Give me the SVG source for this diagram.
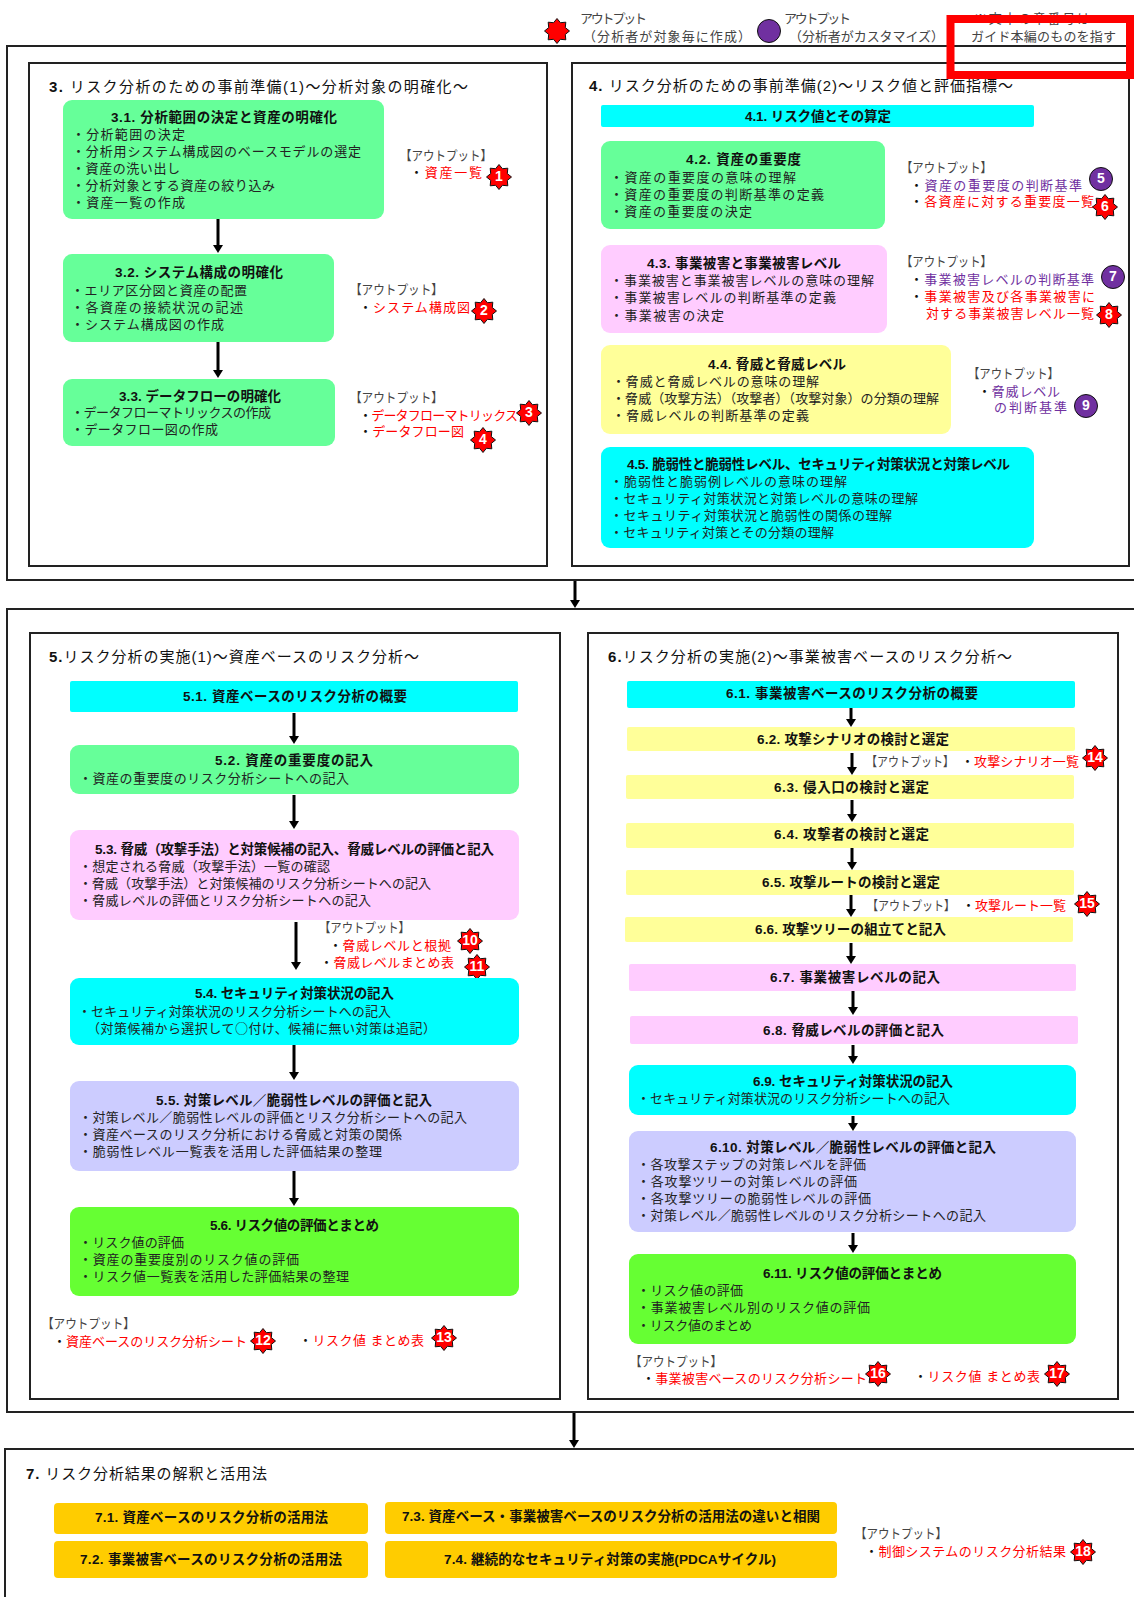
<svg xmlns="http://www.w3.org/2000/svg" xmlns:xlink="http://www.w3.org/1999/xlink" width="1134" height="1597" viewBox="0 0 1134 1597">
<style>
text{font-family:"Liberation Sans","Noto Sans CJK JP",sans-serif;font-size:13px;fill:#222;transform:translateY(-1px)}
.t{font-weight:bold;fill:#111;font-size:13.5px}
.h{font-size:15px;fill:#111}
.h tspan{font-weight:bold}
.o{fill:#444}
.r{fill:#f00}
.p{fill:#7030a0}
.d{fill:#111}
.cj{font-family:"Noto Sans CJK JP",sans-serif}
.n{font-weight:bold;font-size:14px;fill:#fff;text-anchor:middle}
.panel{fill:#fff;stroke:#222;stroke-width:2}
.c{fill:#0ff}.g{fill:#6f9}.m{fill:#fcf}.y{fill:#ff9}.l{fill:#ccf}.v{fill:#6f3}.a{fill:#fc0}
.cn line{stroke:#000;stroke-width:3;marker-end:url(#ah)}
</style>
<defs>
<marker id="ah" markerUnits="userSpaceOnUse" markerWidth="8" markerHeight="10" refX="0" refY="5" viewBox="0 0 8 10" orient="auto"><path d="M0 0L8 5L0 10Z" fill="#000"/></marker>
<polygon id="star" points="0,-12.5 3.4,-8.3 8.8,-8.8 8.3,-3.4 12.5,0 8.3,3.4 8.8,8.8 3.4,8.3 0,12.5 -3.4,8.3 -8.8,8.8 -8.3,3.4 -12.5,0 -8.3,-3.4 -8.8,-8.8 -3.4,-8.3" fill="#f00" stroke="#111" stroke-width="1"/>
<circle id="circ" r="11.5" fill="#7030a0" stroke="#111" stroke-width="1"/>
</defs>
<rect width="1134" height="1597" fill="#fff"/>

<g id="panels">
<rect class="panel" x="7" y="46" width="1140" height="534"/>
<rect class="panel" x="29" y="63" width="518" height="503"/>
<rect class="panel" x="572" y="63" width="557" height="503"/>
<rect class="panel" x="7" y="609" width="1140" height="803"/>
<rect class="panel" x="30" y="633" width="530" height="766"/>
<rect class="panel" x="588" y="633" width="530" height="766"/>
<rect class="panel" x="5" y="1449" width="1140" height="160"/>
</g>

<g id="connectors" class="cn">
<line x1="575" y1="581" x2="575" y2="600"/>
<line x1="574" y1="1413" x2="574" y2="1440"/>
<line x1="218" y1="219" x2="218" y2="245"/>
<line x1="218" y1="342" x2="218" y2="370"/>
<line x1="294" y1="713" x2="294" y2="736"/>
<line x1="294" y1="795" x2="294" y2="821"/>
<line x1="296" y1="922" x2="296" y2="962"/>
<line x1="294" y1="1045" x2="294" y2="1072"/>
<line x1="294" y1="1171" x2="294" y2="1198"/>
<line x1="851" y1="705" x2="851" y2="719"/>
<line x1="852" y1="753" x2="852" y2="767"/>
<line x1="852" y1="800" x2="852" y2="814"/>
<line x1="852" y1="848" x2="852" y2="862"/>
<line x1="851" y1="895" x2="851" y2="909"/>
<line x1="851" y1="943" x2="851" y2="956"/>
<line x1="853" y1="991" x2="853" y2="1007"/>
<line x1="853" y1="1045" x2="853" y2="1056"/>
<line x1="853" y1="1116" x2="853" y2="1123"/>
<line x1="853" y1="1233" x2="853" y2="1245"/>
</g>

<g id="legend">
<use xlink:href="#star" href="#star" x="557" y="31"/>
<text class="o" x="580" y="24" textLength="67">アウトプット</text>
<text class="o" x="583" y="42" textLength="168">（分析者が対象毎に作成）</text>
<use xlink:href="#circ" href="#circ" x="769" y="31"/>
<text class="o" x="784" y="24" textLength="67">アウトプット</text>
<text class="o" x="789" y="42" textLength="155">（分析者がカスタマイズ）</text>
<text class="o" x="974" y="24" textLength="116">※文中の章番号は</text>
<text class="o" x="971" y="42" textLength="145">ガイド本編のものを指す</text>
</g>

<g id="section3-title"><text class="h" x="49" y="93" textLength="419"><tspan>3.</tspan> リスク分析のための事前準備(1)～分析対象の明確化～</text></g>
<g id="section4-title"><text class="h" x="589" y="92" textLength="424"><tspan>4.</tspan> リスク分析のための事前準備(2)～リスク値と評価指標～</text></g>
<g id="section5-title"><text class="h" x="49" y="663" textLength="370"><tspan>5.</tspan>リスク分析の実施(1)～資産ベースのリスク分析～</text></g>
<g id="section6-title"><text class="h" x="608" y="663" textLength="404"><tspan>6.</tspan>リスク分析の実施(2)～事業被害ベースのリスク分析～</text></g>
<g id="section7-title"><text class="h" x="26" y="1480" textLength="241"><tspan>7.</tspan> リスク分析結果の解釈と活用法</text></g>

<g id="n3-1"><rect class="g" x="63" y="100" width="321" height="119" rx="9"/>
<text class="t" x="111" y="123" textLength="226">3.1. 分析範囲の決定と資産の明確化</text>
<text x="72" y="140" textLength="113">・分析範囲の決定</text>
<text x="72" y="157" textLength="289">・分析用システム構成図のベースモデルの選定</text>
<text x="72" y="174" textLength="108">・資産の洗い出し</text>
<text x="72" y="191" textLength="203">・分析対象とする資産の絞り込み</text>
<text x="72" y="208" textLength="113">・資産一覧の作成</text></g>

<g id="n3-2"><rect class="g" x="63" y="254" width="271" height="88" rx="9"/>
<text class="t" x="115" y="278" textLength="168">3.2. システム構成の明確化</text>
<text x="71" y="296" textLength="176">・エリア区分図と資産の配置</text>
<text x="71" y="313" textLength="172">・各資産の接続状況の記述</text>
<text x="71" y="330" textLength="153">・システム構成図の作成</text></g>

<g id="n3-3"><rect class="g" x="63" y="379" width="272" height="67" rx="9"/>
<text class="t" x="119" y="402" textLength="162">3.3. データフローの明確化</text>
<text x="71" y="418" textLength="200">・データフローマトリックスの作成</text>
<text x="71" y="435" textLength="147">・データフロー図の作成</text></g>

<g id="out3-1"><text class="o" x="400" y="161" textLength="92" lengthAdjust="spacingAndGlyphs">【アウトプット】</text>
<text class="r" x="410" y="178" textLength="72"><tspan class="d">・</tspan>資産一覧</text>
<use xlink:href="#star" href="#star" x="499" y="177"/><text class="n" x="499" y="182">1</text></g>

<g id="out3-2"><text class="o" x="350" y="295" textLength="93" lengthAdjust="spacingAndGlyphs">【アウトプット】</text>
<text class="r" x="359" y="313" textLength="111"><tspan class="d">・</tspan>システム構成図</text>
<use xlink:href="#star" href="#star" x="484" y="311"/><text class="n" x="484" y="316">2</text></g>

<g id="out3-3"><text class="o" x="350" y="403" textLength="93" lengthAdjust="spacingAndGlyphs">【アウトプット】</text>
<text class="r" x="359" y="421" textLength="159"><tspan class="d">・</tspan>データフローマトリックス</text>
<use xlink:href="#star" href="#star" x="529" y="413"/><text class="n" x="529" y="418">3</text>
<text class="r" x="359" y="437" textLength="105"><tspan class="d">・</tspan>データフロー図</text>
<use xlink:href="#star" href="#star" x="483" y="440"/><text class="n" x="483" y="445">4</text></g>

<g id="n4-1"><rect class="c" x="601" y="105" width="433" height="22" rx="2"/>
<text class="t" x="745" y="122" textLength="146">4.1. リスク値とその算定</text></g>

<g id="n4-2"><rect class="g" x="601" y="141" width="284" height="88" rx="9"/>
<text class="t" x="686" y="165" textLength="115">4.2. 資産の重要度</text>
<text x="610" y="183" textLength="186">・資産の重要度の意味の理解</text>
<text x="610" y="200" textLength="214">・資産の重要度の判断基準の定義</text>
<text x="610" y="217" textLength="142">・資産の重要度の決定</text></g>

<g id="out4-2"><text class="o" x="901" y="173" textLength="91" lengthAdjust="spacingAndGlyphs">【アウトプット】</text>
<text class="p" x="910" y="191" textLength="172"><tspan class="d">・</tspan>資産の重要度の判断基準</text>
<use xlink:href="#circ" href="#circ" x="1101" y="179"/><text class="n" x="1101" y="184">5</text>
<text class="r" x="910" y="207" textLength="184"><tspan class="d">・</tspan>各資産に対する重要度一覧</text>
<use xlink:href="#star" href="#star" x="1105" y="207"/><text class="n" x="1105" y="212">6</text></g>

<g id="n4-3"><rect class="m" x="601" y="245" width="286" height="88" rx="9"/>
<text class="t" x="647" y="269" textLength="194">4.3. 事業被害と事業被害レベル</text>
<text x="610" y="286" textLength="264">・事業被害と事業被害レベルの意味の理解</text>
<text x="610" y="303" textLength="226">・事業被害レベルの判断基準の定義</text>
<text x="610" y="321" textLength="114">・事業被害の決定</text></g>

<g id="out4-3"><text class="o" x="901" y="267" textLength="91" lengthAdjust="spacingAndGlyphs">【アウトプット】</text>
<text class="p" x="910" y="285" textLength="184"><tspan class="d">・</tspan>事業被害レベルの判断基準</text>
<use xlink:href="#circ" href="#circ" x="1113" y="277"/><text class="n" x="1113" y="282">7</text>
<text class="r" x="910" y="302" textLength="185"><tspan class="d">・</tspan>事業被害及び各事業被害に</text>
<text class="r" x="926" y="319" textLength="168">対する事業被害レベル一覧</text>
<use xlink:href="#star" href="#star" x="1109" y="315"/><text class="n" x="1109" y="320">8</text></g>

<g id="n4-4"><rect class="y" x="601" y="345" width="350" height="89" rx="9"/>
<text class="t" x="708" y="370" textLength="138">4.4. 脅威と脅威レベル</text>
<text x="612" y="387" textLength="207">・脅威と脅威レベルの意味の理解</text>
<text x="612" y="404" textLength="327">・脅威（攻撃方法）（攻撃者）（攻撃対象）の分類の理解</text>
<text x="612" y="421" textLength="197">・脅威レベルの判断基準の定義</text></g>

<g id="out4-4"><text class="o" x="968" y="379" textLength="91" lengthAdjust="spacingAndGlyphs">【アウトプット】</text>
<text class="p" x="978" y="397" textLength="82"><tspan class="d">・</tspan>脅威レベル</text>
<text class="p" x="994" y="413" textLength="73">の判断基準</text>
<use xlink:href="#circ" href="#circ" x="1086" y="406"/><text class="n" x="1086" y="411">9</text></g>

<g id="n4-5"><rect class="c" x="601" y="447" width="433" height="101" rx="9"/>
<text class="t" x="627" y="470" textLength="383">4.5. 脆弱性と脆弱性レベル、セキュリティ対策状況と対策レベル</text>
<text x="610" y="487" textLength="237">・脆弱性と脆弱例レベルの意味の理解</text>
<text x="610" y="504" textLength="308">・セキュリティ対策状況と対策レベルの意味の理解</text>
<text x="610" y="521" textLength="282">・セキュリティ対策状況と脆弱性の関係の理解</text>
<text x="610" y="538" textLength="224">・セキュリティ対策とその分類の理解</text></g>

<g id="n5-1"><rect class="c" x="70" y="681" width="448" height="31" rx="2"/>
<text class="t" x="183" y="702" textLength="224">5.1. 資産ベースのリスク分析の概要</text></g>

<g id="n5-2"><rect class="g" x="70" y="745" width="449" height="49" rx="9"/>
<text class="t" x="215" y="766" textLength="158">5.2. 資産の重要度の記入</text>
<text x="79" y="784" textLength="270">・資産の重要度のリスク分析シートへの記入</text></g>

<g id="n5-3"><rect class="m" x="70" y="830" width="449" height="90" rx="9"/>
<text class="t" x="95" y="855" textLength="399">5.3. 脅威（攻撃手法）と対策候補の記入、脅威レベルの評価と記入</text>
<text x="79" y="872" textLength="251">・想定される脅威（攻撃手法）一覧の確認</text>
<text x="79" y="889" textLength="352">・脅威（攻撃手法）と対策候補のリスク分析シートへの記入</text>
<text x="79" y="906" textLength="292">・脅威レベルの評価とリスク分析シートへの記入</text></g>

<g id="out5-3"><text class="o" x="319" y="933" textLength="91" lengthAdjust="spacingAndGlyphs">【アウトプット】</text>
<text class="r" x="329" y="951" textLength="122"><tspan class="d">・</tspan>脅威レベルと根拠</text>
<use xlink:href="#star" href="#star" x="470" y="941"/><text class="n" x="470" y="946">10</text>
<text class="r" x="320" y="968" textLength="134"><tspan class="d">・</tspan>脅威レベルまとめ表</text>
<use xlink:href="#star" href="#star" x="477" y="967"/><text class="n" x="477" y="972">11</text></g>

<g id="n5-4"><rect class="c" x="70" y="978" width="449" height="67" rx="9"/>
<text class="t" x="195" y="999" textLength="199">5.4. セキュリティ対策状況の記入</text>
<text x="78" y="1017" textLength="313">・セキュリティ対策状況のリスク分析シートへの記入</text>
<text x="87" y="1034" textLength="349">（対策候補から選択して<tspan class="cj">○</tspan>付け、候補に無い対策は追記）</text></g>

<g id="n5-5"><rect class="l" x="70" y="1081" width="449" height="90" rx="9"/>
<text class="t" x="156" y="1106" textLength="276">5.5. 対策レベル／脆弱性レベルの評価と記入</text>
<text x="79" y="1123" textLength="388">・対策レベル／脆弱性レベルの評価とリスク分析シートへの記入</text>
<text x="79" y="1140" textLength="323">・資産ベースのリスク分析における脅威と対策の関係</text>
<text x="79" y="1157" textLength="303">・脆弱性レベル一覧表を活用した評価結果の整理</text></g>

<g id="n5-6"><rect class="v" x="70" y="1207" width="449" height="89" rx="9"/>
<text class="t" x="210" y="1231" textLength="169">5.6. リスク値の評価とまとめ</text>
<text x="79" y="1248" textLength="105">・リスク値の評価</text>
<text x="79" y="1265" textLength="220">・資産の重要度別のリスク値の評価</text>
<text x="79" y="1282" textLength="270">・リスク値一覧表を活用した評価結果の整理</text></g>

<g id="out5-6"><text class="o" x="42" y="1329" textLength="93" lengthAdjust="spacingAndGlyphs">【アウトプット】</text>
<text class="r" x="53" y="1347" textLength="194"><tspan class="d">・</tspan>資産ベースのリスク分析シート</text>
<use xlink:href="#star" href="#star" x="263" y="1341"/><text class="n" x="263" y="1346">12</text>
<text class="r" x="299" y="1346" textLength="125"><tspan class="d">・</tspan>リスク値 まとめ表</text>
<use xlink:href="#star" href="#star" x="444" y="1338"/><text class="n" x="444" y="1343">13</text></g>

<g id="n6-1"><rect class="c" x="627" y="681" width="448" height="27" rx="2"/>
<text class="t" x="726" y="699" textLength="252">6.1. 事業被害ベースのリスク分析の概要</text></g>
<g id="n6-2"><rect class="y" x="627" y="727" width="448" height="24" rx="2"/>
<text class="t" x="757" y="745" textLength="192">6.2. 攻撃シナリオの検討と選定</text></g>
<g id="out6-2"><text class="o" x="866" y="767" textLength="88" lengthAdjust="spacingAndGlyphs">【アウトプット】</text>
<text class="r" x="961" y="767" textLength="118"><tspan class="d">・</tspan>攻撃シナリオ一覧</text>
<use xlink:href="#star" href="#star" x="1095" y="758"/><text class="n" x="1095" y="763">14</text></g>
<g id="n6-3"><rect class="y" x="626" y="775" width="448" height="24" rx="2"/>
<text class="t" x="774" y="793" textLength="155">6.3. 侵入口の検討と選定</text></g>
<g id="n6-4"><rect class="y" x="626" y="823" width="448" height="25" rx="2"/>
<text class="t" x="774" y="840" textLength="155">6.4. 攻撃者の検討と選定</text></g>
<g id="n6-5"><rect class="y" x="626" y="870" width="448" height="25" rx="2"/>
<text class="t" x="762" y="888" textLength="178">6.5. 攻撃ルートの検討と選定</text></g>
<g id="out6-5"><text class="o" x="867" y="911" textLength="88" lengthAdjust="spacingAndGlyphs">【アウトプット】</text>
<text class="r" x="962" y="911" textLength="104"><tspan class="d">・</tspan>攻撃ルート一覧</text>
<use xlink:href="#star" href="#star" x="1087" y="904"/><text class="n" x="1087" y="909">15</text></g>
<g id="n6-6"><rect class="y" x="625" y="917" width="448" height="25" rx="2"/>
<text class="t" x="755" y="935" textLength="191">6.6. 攻撃ツリーの組立てと記入</text></g>
<g id="n6-7"><rect class="m" x="629" y="964" width="447" height="27" rx="2"/>
<text class="t" x="770" y="983" textLength="170">6.7. 事業被害レベルの記入</text></g>
<g id="n6-8"><rect class="m" x="630" y="1016" width="448" height="28" rx="2"/>
<text class="t" x="763" y="1036" textLength="181">6.8. 脅威レベルの評価と記入</text></g>
<g id="n6-9"><rect class="c" x="629" y="1065" width="447" height="50" rx="9"/>
<text class="t" x="753" y="1087" textLength="200">6.9. セキュリティ対策状況の記入</text>
<text x="637" y="1104" textLength="313">・セキュリティ対策状況のリスク分析シートへの記入</text></g>
<g id="n6-10"><rect class="l" x="629" y="1131" width="447" height="101" rx="9"/>
<text class="t" x="710" y="1153" textLength="286">6.10. 対策レベル／脆弱性レベルの評価と記入</text>
<text x="637" y="1170" textLength="229">・各攻撃ステップの対策レベルを評価</text>
<text x="637" y="1187" textLength="220">・各攻撃ツリーの対策レベルの評価</text>
<text x="637" y="1204" textLength="234">・各攻撃ツリーの脆弱性レベルの評価</text>
<text x="637" y="1221" textLength="349">・対策レベル／脆弱性レベルのリスク分析シートへの記入</text></g>
<g id="n6-11"><rect class="v" x="629" y="1254" width="447" height="90" rx="9"/>
<text class="t" x="763" y="1279" textLength="179">6.11. リスク値の評価とまとめ</text>
<text x="637" y="1296" textLength="106">・リスク値の評価</text>
<text x="637" y="1313" textLength="233">・事業被害レベル別のリスク値の評価</text>
<text x="637" y="1331" textLength="115">・リスク値のまとめ</text></g>
<g id="out6-11"><text class="o" x="630" y="1367" textLength="92" lengthAdjust="spacingAndGlyphs">【アウトプット】</text>
<text class="r" x="642" y="1384" textLength="225"><tspan class="d">・</tspan>事業被害ベースのリスク分析シート</text>
<use xlink:href="#star" href="#star" x="878" y="1374"/><text class="n" x="878" y="1379">16</text>
<text class="r" x="914" y="1382" textLength="126"><tspan class="d">・</tspan>リスク値 まとめ表</text>
<use xlink:href="#star" href="#star" x="1057" y="1374"/><text class="n" x="1057" y="1379">17</text></g>

<g id="n7-1"><rect class="a" x="54" y="1503" width="314" height="31" rx="4"/>
<text class="t" x="95" y="1523" textLength="233">7.1. 資産ベースのリスク分析の活用法</text></g>
<g id="n7-2"><rect class="a" x="54" y="1541" width="314" height="37" rx="4"/>
<text class="t" x="80" y="1565" textLength="262">7.2. 事業被害ベースのリスク分析の活用法</text></g>
<g id="n7-3"><rect class="a" x="385" y="1502" width="452" height="32" rx="4"/>
<text class="t" x="402" y="1522" textLength="418">7.3. 資産ベース・事業被害ベースのリスク分析の活用法の違いと相関</text></g>
<g id="n7-4"><rect class="a" x="385" y="1541" width="452" height="37" rx="4"/>
<text class="t" x="444" y="1565" textLength="332">7.4. 継続的なセキュリティ対策の実施(PDCAサイクル)</text></g>
<g id="out7"><text class="o" x="855" y="1539" textLength="92" lengthAdjust="spacingAndGlyphs">【アウトプット】</text>
<text class="r" x="865" y="1557" textLength="201"><tspan class="d">・</tspan>制御システムのリスク分析結果</text>
<use xlink:href="#star" href="#star" x="1083" y="1552"/><text class="n" x="1083" y="1557">18</text></g>

<rect id="highlight" x="950.5" y="19" width="179.5" height="56" fill="none" stroke="#f00" stroke-width="8"/>
</svg>
